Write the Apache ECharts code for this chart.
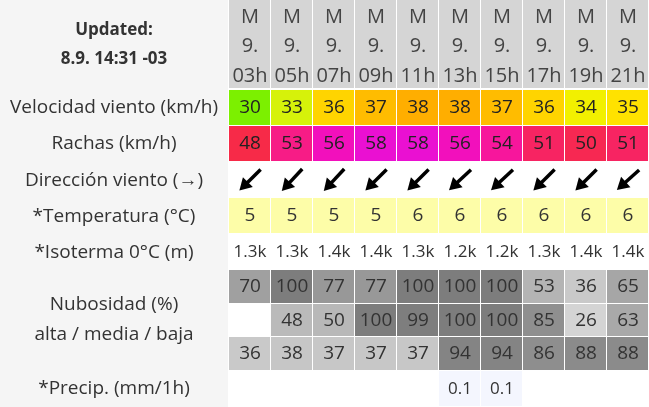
<!DOCTYPE html>
<html><head><meta charset="utf-8">
<script src="https://cdn.jsdelivr.net/npm/echarts@6/dist/echarts.min.js"></script>
<style>html,body{margin:0;padding:0;background:#fff}#c{width:649px;height:407px}</style>
</head><body><div id="c"></div>
<script>
const days=['M','M','M','M','M','M','M','M','M','M'];
const dates=['9.','9.','9.','9.','9.','9.','9.','9.','9.','9.'];
const hours=['03h','05h','07h','09h','11h','13h','15h','17h','19h','21h'];
const windSpeed=[30,33,36,37,38,38,37,36,34,35];
const gusts=[48,53,56,58,58,56,54,51,50,51];
const windDir=[225,227,227,225,225,223,223,225,225,222];
const temperature=[5,5,5,5,6,6,6,6,6,6];
const isotherm=['1.3k','1.3k','1.4k','1.4k','1.3k','1.2k','1.2k','1.3k','1.4k','1.4k'];
const cloudHigh=[70,100,77,77,100,100,100,53,36,65];
const cloudMid=[null,48,50,100,99,100,100,85,26,63];
const cloudLow=[36,38,37,37,37,94,94,86,88,88];
const precip=[null,null,null,null,null,0.1,0.1,null,null,null];
const rowLabels=['Velocidad viento (km/h)','Rachas (km/h)','Dirección viento (→)','*Temperatura (°C)','*Isoterma 0°C (m)','Nubosidad (%)\nalta / media / baja','*Precip. (mm/1h)'];

const windColors={30:'#7cf000',33:'#d6f20a',34:'#f2f000',35:'#ffe200',36:'#ffd400',37:'#ffbc00',38:'#ffae00'};
const gustColors={48:'#f72a48',50:'#f72852',51:'#f72462',53:'#f71c86',54:'#f7169c',56:'#f210bc',58:'#ea10d2'};
const FONT='"Open Sans", sans-serif';
function gray(v){if(v==null)return '#ffffff';const g=Math.round(243-1.18*v);return 'rgb('+g+','+g+','+g+')';}

const chart=echarts.init(document.getElementById('c'));
function cellSeries(data,top,bottom,fill,txt,opts){
  opts=opts||{};
  return {type:'custom',coordinateSystem:'cartesian2d',
    data:data.map((v,i)=>[i,v]),
    renderItem:function(params,api){
      const i=api.value(0);const v=data[i];
      const p1=api.coord([i,top]);const p2=api.coord([i,bottom]);
      const w=api.size([1,0])[0];
      const x=p1[0]-w/2;const y=p1[1];const h=p2[1]-p1[1];
      const children=[{type:'rect',shape:{x:x,y:y,width:w-1,height:h-1},style:{fill:fill(v,i)}}];
      const t=txt(v,i);
      if(t!==''&&t!=null){
        if(opts.lines){
          const n=t.length;
          t.forEach((s,k)=>children.push({type:'text',style:{text:s,x:x+w/2,y:y+h*(k+0.5)/n+(opts.dy||0),align:'center',verticalAlign:'middle',font:'20px '+FONT,fill:opts.color||'#333'}}));
        } else children.push({type:'text',style:{text:String(t),x:x+w/2,y:y+h/2,align:'center',verticalAlign:'middle',font:(opts.size||19)+'px '+FONT,fill:opts.color||'#222'}});
      }
      return {type:'group',children:children};
    }};
}
function arrowSeries(data,top,bottom){
  return {type:'custom',data:data.map((v,i)=>[i,v]),
    renderItem:function(params,api){
      const i=api.value(0);const a=data[i]*Math.PI/180;
      const c1=api.coord([i,top]);const c2=api.coord([i,bottom]);
      const cx=c1[0];const cy=(c1[1]+c2[1])/2;
      return {type:'group',x:cx,y:cy,rotation:a,children:[
        {type:'line',shape:{x1:-15,y1:0,x2:6,y2:0},style:{stroke:'#000',lineWidth:3.5}},
        {type:'polygon',shape:{points:[[15,0],[3,-7],[3,7]]},style:{fill:'#000'}}
      ]};
    }};
}
const series=[
  cellSeries(hours,0,89,()=>'#d5d5d5',(v,i)=>[days[i],dates[i],hours[i]],{lines:true,dy:2,color:'#444'}),
  cellSeries(windSpeed,90,126,v=>windColors[v]||'#ffd000',v=>v),
  cellSeries(gusts,126,162,v=>gustColors[v]||'#f72080',v=>v),
  arrowSeries(windDir,162,198),
  cellSeries(temperature,198,234,()=>'#fdfda8',v=>v,{color:'#333'}),
  cellSeries(isotherm,234,270,()=>'#ffffff',v=>v,{color:'#333',size:17}),
  cellSeries(cloudHigh,270,304,gray,v=>v==null?'':v,{color:'#333'}),
  cellSeries(cloudMid,304,337,gray,v=>v==null?'':v,{color:'#333'}),
  cellSeries(cloudLow,337,371,gray,v=>v==null?'':v,{color:'#333'}),
  cellSeries(precip,371,407,v=>v==null?'#ffffff':'#f4f6fe',v=>v==null?'':v,{color:'#333',size:17})
];
const rowCenters=[108,144,181,217,253,320,389];
const graphics=[{type:'rect',shape:{x:0,y:0,width:228,height:407},style:{fill:'#f5f5f5'},z:-1},
  {type:'text',x:114,y:30,style:{text:'Updated:',align:'center',verticalAlign:'middle',font:'bold 17px '+FONT,fill:'#333'}},
  {type:'text',x:114,y:59,style:{text:'8.9. 14:31 -03',align:'center',verticalAlign:'middle',font:'bold 17px '+FONT,fill:'#333'}}];
rowLabels.forEach((l,k)=>graphics.push({type:'text',x:114,y:rowCenters[k],style:{text:l,align:'center',verticalAlign:'middle',font:'19px '+FONT,lineHeight:30,fill:'#333'}}));
chart.setOption({animation:false,
  grid:{left:229,right:0,top:0,bottom:0},
  xAxis:{type:'category',data:hours,show:false},
  yAxis:{type:'value',min:0,max:407,inverse:true,show:false},
  graphic:graphics,series:series});
</script></body></html>
